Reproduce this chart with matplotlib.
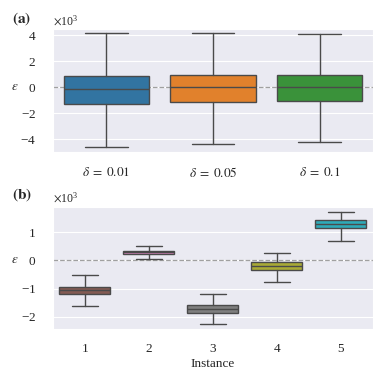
import numpy as np
import matplotlib
matplotlib.use("Agg")
import matplotlib.pyplot as plt
import seaborn as sns

# panel (a): box stats per delta (values in units, shown x10^3)
deltas = ["0.01", "0.05", "0.1"]
a_whislo = [-4600, -4360, -4230]
a_q1 = [-1290, -1130, -1050]
a_med = [-120, 0, 50]
a_q3 = [880, 930, 980]
a_whishi = [4220, 4160, 4140]

# panel (b): box stats per instance
instances = ["1", "2", "3", "4", "5"]
b_whislo = [-1620, 35, -2280, -780, 700]
b_q1 = [-1200, 220, -1880, -350, 1160]
b_med = [-1050, 300, -1740, -200, 1310]
b_q3 = [-930, 340, -1590, -50, 1450]
b_whishi = [-530, 520, -1190, 280, 1740]

sns.set_style("darkgrid")
plt.rcParams['font.family'] = ['Liberation Serif', 'DejaVu Serif']
plt.rcParams['mathtext.fontset'] = 'stix'
plt.rcParams['font.size'] = 9.5

pal = sns.color_palette("tab10")
cols = [sns.desaturate(c, 0.75) for c in pal]
a_cols = cols[0:3]
b_cols = cols[5:10]
edge = '#4a4a4a'


def stats(lo, q1, med, q3, hi):
    return [dict(whislo=l, q1=a, med=m, q3=b, whishi=h, fliers=[])
            for l, a, m, b, h in zip(lo, q1, med, q3, hi)]


def draw(ax, st, colors, labels, ylim):
    ax.axhline(0, ls='--', color='#a0a0a0', lw=0.9, zorder=1)
    bp = ax.bxp(st, positions=np.arange(len(st)), widths=0.8, patch_artist=True,
                showfliers=False,
                boxprops=dict(edgecolor=edge, linewidth=1.0),
                medianprops=dict(color=edge, linewidth=1.0),
                whiskerprops=dict(color=edge, linewidth=1.0),
                capprops=dict(color=edge, linewidth=1.0),
                zorder=2)
    for p, c in zip(bp['boxes'], colors):
        p.set_facecolor(c)
    ax.set_xlim(-0.5, len(st) - 0.5)
    ax.set_xticks(np.arange(len(st)))
    ax.set_xticklabels(labels)
    ax.xaxis.grid(False)
    ax.set_ylim(*ylim)
    ax.ticklabel_format(axis='y', style='sci', scilimits=(0, 0), useMathText=True)
    ax.yaxis.get_offset_text().set_fontsize(8.5)
    ax.tick_params(axis='y', pad=12, length=0)
    ax.tick_params(axis='x', pad=10, length=0)
    ax.set_ylabel(r'$\varepsilon$', rotation=0, va='center', ha='center')
    # put the label level with the zero line
    ax.yaxis.set_label_coords(-0.12, -ylim[0] / (ylim[1] - ylim[0]))


fig = plt.figure(figsize=(3.86, 3.86), dpi=100)
ax1 = fig.add_axes([0.137, 0.606, 0.829, 0.319])
ax2 = fig.add_axes([0.137, 0.147, 0.829, 0.318])

draw(ax1, stats(a_whislo, a_q1, a_med, a_q3, a_whishi), a_cols,
     [r'$\delta\;=\;%s$' % d for d in deltas], (-5000, 4500))
ax1.set_yticks([-4000, -2000, 0, 2000, 4000])

draw(ax2, stats(b_whislo, b_q1, b_med, b_q3, b_whishi), b_cols,
     instances, (-2450, 1920))
ax2.set_yticks([-2000, -1000, 0, 1000])
ax2.set_xlabel('Instance', labelpad=2)

fig.text(0.03, 0.952, r'$\mathbf{(a)}$', fontsize=11, va='center')
fig.text(0.03, 0.495, r'$\mathbf{(b)}$', fontsize=11, va='center')

fig.savefig("out.png", dpi=100)
